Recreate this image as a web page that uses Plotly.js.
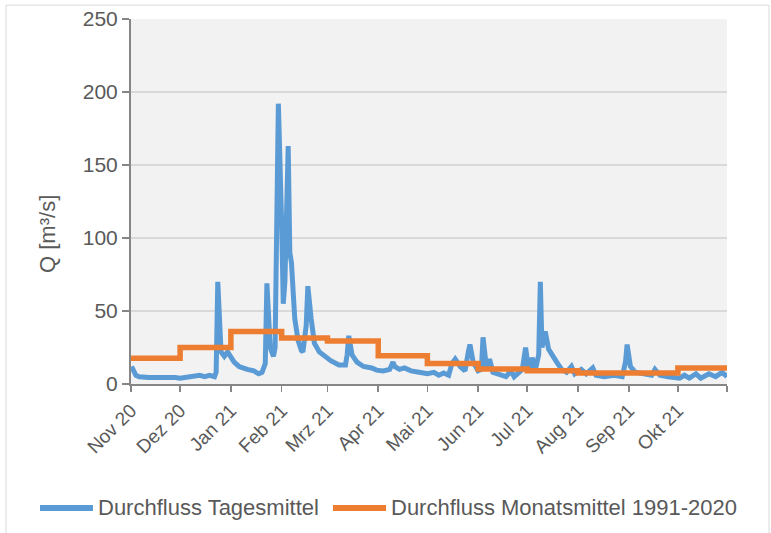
<!DOCTYPE html>
<html>
<head>
<meta charset="utf-8">
<script src="https://cdn.plot.ly/plotly-3.0.1.min.js"></script>
<style>html,body{margin:0;padding:0;background:#fff;}#chart{width:771px;height:533px;}</style>
</head>
<body>
<div id="chart"></div>
<script>
// Daily discharge (key points)
const dailyDates = [
 '2020-11-01','2020-11-02','2020-11-04','2020-11-06','2020-11-12','2020-11-18','2020-11-22','2020-11-28',
 '2020-12-01','2020-12-07','2020-12-13','2020-12-16','2020-12-19','2020-12-22','2020-12-23','2020-12-24',
 '2020-12-25','2020-12-26','2020-12-28','2020-12-30','2021-01-03','2021-01-06','2021-01-11','2021-01-15',
 '2021-01-18','2021-01-20','2021-01-22','2021-01-23','2021-01-25','2021-01-27','2021-01-28','2021-01-30',
 '2021-02-01','2021-02-02','2021-02-03','2021-02-05','2021-02-06','2021-02-07','2021-02-09','2021-02-11',
 '2021-02-13','2021-02-14','2021-02-16','2021-02-17','2021-02-19','2021-02-21','2021-02-24','2021-02-27',
 '2021-03-03','2021-03-08','2021-03-12','2021-03-13','2021-03-14','2021-03-16','2021-03-19','2021-03-23',
 '2021-03-28','2021-03-31','2021-04-04','2021-04-08','2021-04-10','2021-04-11','2021-04-14','2021-04-17',
 '2021-04-21','2021-04-26','2021-05-01','2021-05-05','2021-05-08','2021-05-11','2021-05-14','2021-05-16',
 '2021-05-18','2021-05-21','2021-05-24','2021-05-26','2021-05-27','2021-05-29','2021-06-01','2021-06-03',
 '2021-06-04','2021-06-06','2021-06-08','2021-06-10','2021-06-13','2021-06-18','2021-06-21','2021-06-23',
 '2021-06-25','2021-06-28','2021-06-30','2021-07-02','2021-07-04','2021-07-06','2021-07-08','2021-07-09',
 '2021-07-10','2021-07-12','2021-07-14','2021-07-16','2021-07-19','2021-07-22','2021-07-25','2021-07-28',
 '2021-07-30','2021-08-03','2021-08-06','2021-08-10','2021-08-12','2021-08-17','2021-08-23','2021-08-28',
 '2021-08-30','2021-08-31','2021-09-02','2021-09-05','2021-09-10','2021-09-15','2021-09-17','2021-09-20',
 '2021-09-25','2021-10-02','2021-10-05','2021-10-08','2021-10-12','2021-10-15','2021-10-20','2021-10-24',
 '2021-10-28','2021-10-30','2021-10-31'
];
const dailyQ = [
 10,10.5,6,5,4.5,5,4.5,4.5,
 4,5,6,5,6,5,8,70,
 45,22,19,22,15,12,10,9,
 7,8,14,69,25,19,25,192,
 110,55,70,163,90,83,45,30,
 23,22,40,67,45,28,22,19,
 16,13,13,20,33,20,15,12,
 11,9.5,9,10,15,12,10,11,
 9,8,7,8,6,7.5,6,14,
 17,12,9,22,27,15,9,10,
 32,12,17,8,7,5,9,5,
 7,10,25,8,18,10,20,70,
 25,36,24,20,15,10,8,12,
 7,10,7,11,6,5,6,5,
 15,27,12,8,7,6,10,6,
 5,4,6,4,7,4,7,5,
 8,6,5
];
// Long-term monthly means 1991-2020
const monthStarts = ['2020-11-01','2020-12-01','2021-01-01','2021-02-01','2021-03-01','2021-04-01','2021-05-01','2021-06-01','2021-07-01','2021-08-01','2021-09-01','2021-10-01','2021-10-31'];
const monthlyQ = [17.7,25,36,31.5,29.5,19.3,14,10.2,9,7.5,7.5,11,11];
const tickDates = ['2020-11-01','2020-12-01','2021-01-01','2021-02-01','2021-03-01','2021-04-01','2021-05-01','2021-06-01','2021-07-01','2021-08-01','2021-09-01','2021-10-01','2021-10-31'];
const tickLabels = ['Nov 20','Dez 20','Jan 21','Feb 21','Mrz 21','Apr 21','Mai 21','Jun 21','Jul 21','Aug 21','Sep 21','Okt 21',''];
const yTicks = [0,50,100,150,200,250];
const yTitle = 'Q [m³/s]';
const seriesNames = ['Durchfluss Tagesmittel','Durchfluss Monatsmittel 1991-2020'];
const seriesColors = ['#5b9bd5','#ed7d31'];

const font = '"Liberation Sans", Arial, sans-serif';
const txt = '#595959';
const traces = [
 {x: dailyDates, y: dailyQ, type:'scatter', mode:'lines', name:seriesNames[0],
  line:{color:seriesColors[0], width:5, shape:'linear'}},
 {x: monthStarts, y: monthlyQ, type:'scatter', mode:'lines', name:seriesNames[1],
  line:{color:seriesColors[1], width:5.5, shape:'hv'}}
];
// custom legend (paper coordinates)
const legY = -0.3397;
const legendShapes = [
 {type:'line', xref:'paper', yref:'paper', x0:-0.1527, x1:-0.0638, y0:legY, y1:legY, line:{color:seriesColors[0], width:6}},
 {type:'line', xref:'paper', yref:'paper', x0:0.3389, x1:0.4279, y0:legY, y1:legY, line:{color:seriesColors[1], width:6}}
];
const anns = [
 {xref:'paper', yref:'paper', x:-0.0580, y:legY, xanchor:'left', yanchor:'middle', showarrow:false, text:seriesNames[0], font:{size:22, color:txt}},
 {xref:'paper', yref:'paper', x:0.4336, y:legY, xanchor:'left', yanchor:'middle', showarrow:false, text:seriesNames[1], font:{size:22, color:txt}},
 {xref:'paper', yref:'paper', x:-0.1393, y:0.411, xanchor:'center', yanchor:'middle', showarrow:false, textangle:-90, text:yTitle, font:{size:22, color:txt}}
];
const layout = {
 width:771, height:533,
 margin:{l:131, r:44, t:19, b:149},
 paper_bgcolor:'#ffffff', plot_bgcolor:'#f2f2f2',
 font:{family:font, size:21, color:txt},
 showlegend:false,
 xaxis:{type:'date', range:['2020-11-01','2021-10-31'], tickmode:'array', tickvals:tickDates, ticktext:tickLabels,
  tickangle:-45, showgrid:false, showline:true, linecolor:'#868686', linewidth:2, ticks:'outside', ticklen:6,
  tickcolor:'#868686', tickwidth:1.5, zeroline:false, tickfont:{size:19, color:txt}, automargin:false},
 yaxis:{range:[0,250], tickmode:'array', tickvals:yTicks, showgrid:true, gridcolor:'#d9d9d9', gridwidth:2,
  showline:true, linecolor:'#868686', linewidth:2, ticks:'outside', ticklen:7, tickcolor:'#868686', tickwidth:1.5,
  zeroline:false, tickfont:{size:21, color:txt}, automargin:false},
 shapes:[{type:'rect', xref:'paper', yref:'paper', x0:-0.2097, x1:1.0705, y0:-0.5, y1:1.038,
  line:{color:'#d9d9d9', width:1}, fillcolor:'rgba(0,0,0,0)', layer:'below'}].concat(legendShapes),
 annotations: anns
};
Plotly.newPlot('chart', traces, layout, {displayModeBar:false, staticPlot:true});
</script>
</body>
</html>
